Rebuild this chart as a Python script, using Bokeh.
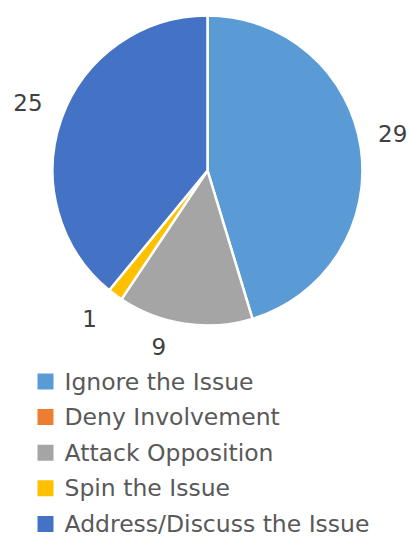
import math
from bokeh.plotting import figure
from bokeh.models import Range1d, ColumnDataSource
from bokeh.core.properties import value
from bokeh.embed import file_html
from bokeh.resources import INLINE

categories = ["Ignore the Issue", "Deny Involvement", "Attack Opposition",
              "Spin the Issue", "Address/Discuss the Issue"]
counts = [29, 0, 9, 1, 25]
colors = ["#5B9BD5", "#ED7D31", "#A5A5A5", "#FFC000", "#4472C4"]

# layout-only nudges for data labels (degrees, extra radius)
label_nudge_deg = [-3, 0, 7, 2, 1]
label_nudge_r = [0, 0, -6, 0, 3]

W, H = 409, 539
FONT = "DejaVu Sans"
p = figure(width=W, height=H, output_backend="svg", toolbar_location=None,
           x_range=Range1d(0, W), y_range=Range1d(H, 0), min_border=0)
p.axis.visible = False
p.grid.visible = False
p.outline_line_color = None
p.background_fill_color = "white"
p.border_fill_color = "white"

cx, cy, R = 207, 170, 155
total = sum(counts)
starts, ends, cols, mids = [], [], [], []
acc = 0.0
for c, col in zip(counts, colors):
    a0 = 2 * math.pi * acc / total      # clockwise from 12 o'clock
    acc += c
    a1 = 2 * math.pi * acc / total
    mids.append((a0 + a1) / 2)
    if c > 0:
        starts.append(math.pi / 2 - a1)
        ends.append(math.pi / 2 - a0)
        cols.append(col)

src = ColumnDataSource(dict(start=starts, end=ends, color=cols))
p.wedge(x=cx, y=cy, radius=R, start_angle="start", end_angle="end",
        direction="anticlock",
        fill_color="color", line_color="white", line_width=2.5, source=src)

# data labels (skip zero)
lx, ly, lt = [], [], []
for c, m, nd, nr in zip(counts, mids, label_nudge_deg, label_nudge_r):
    if c <= 0:
        continue
    a = m + math.radians(nd)
    r = 189 + nr
    lx.append(cx + r * math.sin(a))
    ly.append(cy - r * math.cos(a))
    lt.append(str(c))
p.text(x=lx, y=ly, text=lt, text_align="center", text_baseline="middle",
       text_font=value(FONT), text_font_size="23px", text_color="#404040")

# legend
top_y = 381
step = 35.6
ys = [top_y + i * step for i in range(len(categories))]
p.rect(x=[45] * len(categories), y=ys, width=16, height=16,
       fill_color=colors, line_color=None)
p.text(x=[64] * len(categories), y=ys, text=categories, text_align="left",
       text_baseline="middle", text_font=value(FONT),
       text_font_size="23.5px", text_color="#595959")

open("out.html", "w").write(file_html(p, INLINE))
